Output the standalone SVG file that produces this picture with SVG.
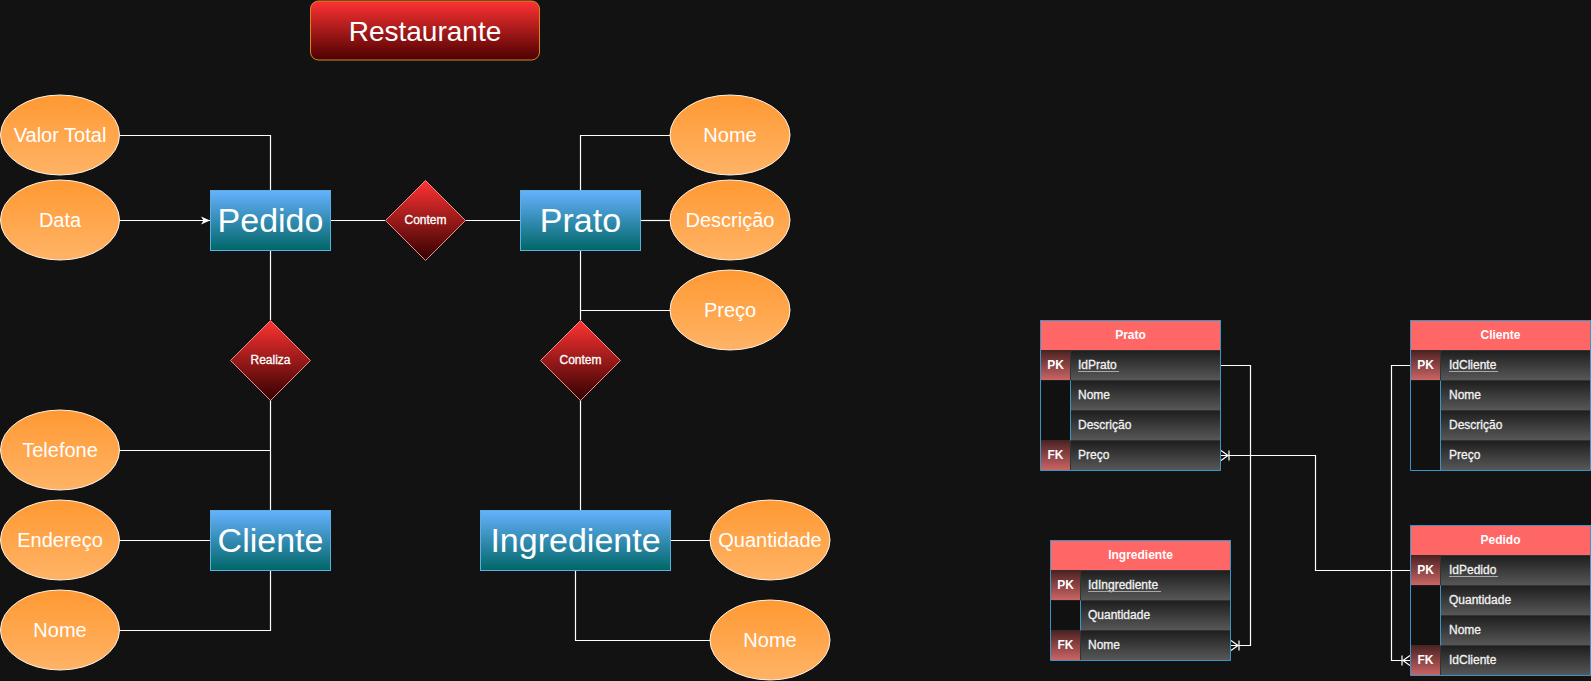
<svg xmlns="http://www.w3.org/2000/svg" width="1591" height="681" viewBox="0 0 1591 681">
<style>
text{font-family:"Liberation Sans",Arial,sans-serif;fill:#ffffff}
.ent{fill:url(#gEnt);stroke:#5aaee0;stroke-width:1}
.entT{font-size:34px;text-anchor:middle;dominant-baseline:central}
.rel{fill:url(#gRel);stroke:#e89088;stroke-width:1}
.relT{font-size:12px;text-anchor:middle;dominant-baseline:central;stroke:#ffffff;stroke-width:0.3}
.att{fill:url(#gAttr);stroke:#fff3e6;stroke-width:1}
.attT{font-size:20px;text-anchor:middle;dominant-baseline:central}
.ln{fill:none;stroke:#ffffff;stroke-width:1.2}
.hdr{fill:#ff6666;stroke:#3b94c6;stroke-width:1}
.hdrT{font-size:12px;font-weight:bold;text-anchor:middle;dominant-baseline:central}
.row{fill:url(#gRow);stroke:#333;stroke-width:1}
.key{fill:url(#gKey);stroke:#3a2a2a;stroke-width:1}
.nokey{fill:#111111}
.keyT{font-size:12px;font-weight:bold;text-anchor:middle;dominant-baseline:central}
.fT{font-size:12px;dominant-baseline:central;fill:#f2f2f2;stroke:#f2f2f2;stroke-width:0.3}
.ul{stroke:#a8a8a8;stroke-width:1.2}
.frame{fill:none;stroke:#3b94c6;stroke-width:1}
</style>
<defs>
<linearGradient id="gEnt" x1="0" y1="0" x2="0" y2="1"><stop offset="0" stop-color="#66b2ff"/><stop offset="1" stop-color="#006666"/></linearGradient>
<linearGradient id="gRel" x1="0" y1="0" x2="0" y2="1"><stop offset="0" stop-color="#ff3333"/><stop offset="1" stop-color="#330000"/></linearGradient>
<linearGradient id="gAttr" x1="0" y1="0" x2="0" y2="1"><stop offset="0" stop-color="#ff9933"/><stop offset="1" stop-color="#ffb366"/></linearGradient>
<linearGradient id="gTitle" x1="0" y1="0" x2="0" y2="1"><stop offset="0" stop-color="#ff3333"/><stop offset="1" stop-color="#4d0000"/></linearGradient>
<linearGradient id="gRow" x1="0" y1="0" x2="0" y2="1"><stop offset="0" stop-color="#1e1e1e"/><stop offset="1" stop-color="#585858"/></linearGradient>
<linearGradient id="gKey" x1="0" y1="0" x2="0" y2="1"><stop offset="0" stop-color="#4d2222"/><stop offset="1" stop-color="#cc6666"/></linearGradient>
<marker id="arrow" markerUnits="userSpaceOnUse" viewBox="-10 -5 11 10" refX="0" refY="0" markerWidth="11" markerHeight="10" orient="auto">
<path d="M0,0 L-9,-4 L-6.5,0 L-9,4 Z" fill="#ffffff"/>
</marker>
<marker id="oneMany" markerUnits="userSpaceOnUse" viewBox="-12 -7 13 14" refX="0" refY="0" markerWidth="13" markerHeight="14" orient="auto">
<path d="M0,-5 L-7,0 L0,5 M-8,-5 L-8,5" fill="none" stroke="#ffffff" stroke-width="1.2"/>
</marker>
</defs>
<rect x="0" y="0" width="1591" height="681" fill="#121212"/>

<g id="title">
<rect x="310.5" y="1" width="229" height="59" rx="8" fill="url(#gTitle)" stroke="#d28a1e" stroke-width="1"/>
<text x="425" y="31" font-size="28" text-anchor="middle" dominant-baseline="central">Restaurante</text>
</g>

<g id="connectors">
<path class="ln" d="M120,135.5 H270.5 V190"/>
<path class="ln" d="M120,220.5 H210" marker-end="url(#arrow)"/>
<path class="ln" d="M330,220.5 H385"/>
<path class="ln" d="M465,220.5 H520"/>
<path class="ln" d="M270.5,250 V320"/>
<path class="ln" d="M270.5,400 V510"/>
<path class="ln" d="M120,450.5 H270.5"/>
<path class="ln" d="M120,540.5 H210"/>
<path class="ln" d="M120,630.5 H270.5 V570"/>
<path class="ln" d="M580.5,190 V135.5 H670"/>
<path class="ln" d="M640,220.5 H670"/>
<path class="ln" d="M580.5,250 V320"/>
<path class="ln" d="M580.5,310.5 H670"/>
<path class="ln" d="M580.5,400 V520"/>
<path class="ln" d="M670,540.5 H710"/>
<path class="ln" d="M575.5,570 V640.5 H710"/>
<path class="ln" d="M1221,365.5 H1250.5 V645.5 H1231" marker-end="url(#oneMany)"/>
<path class="ln" d="M1410,570.5 H1315.5 V455.5 H1221" marker-end="url(#oneMany)"/>
<path class="ln" d="M1410,365.5 H1391.5 V660.5 H1410" marker-end="url(#oneMany)"/>
</g>

<g id="attr-valor-total"><ellipse class="att" cx="60" cy="135" rx="59.5" ry="40"/><text class="attT" x="60" y="135" font-size="19">Valor Total</text></g>
<g id="attr-data"><ellipse class="att" cx="60" cy="220" rx="59.5" ry="40"/><text class="attT" x="60" y="220">Data</text></g>
<g id="attr-telefone"><ellipse class="att" cx="60" cy="450" rx="59.5" ry="40"/><text class="attT" x="60" y="450">Telefone</text></g>
<g id="attr-endereco"><ellipse class="att" cx="60" cy="540" rx="59.5" ry="40"/><text class="attT" x="60" y="540">Endereço</text></g>
<g id="attr-cliente-nome"><ellipse class="att" cx="60" cy="630" rx="59.5" ry="40"/><text class="attT" x="60" y="630">Nome</text></g>
<g id="attr-prato-nome"><ellipse class="att" cx="730" cy="135" rx="60" ry="40"/><text class="attT" x="730" y="135">Nome</text></g>
<g id="attr-descricao"><ellipse class="att" cx="730" cy="220" rx="60" ry="40"/><text class="attT" x="730" y="220">Descrição</text></g>
<g id="attr-preco"><ellipse class="att" cx="730" cy="310" rx="60" ry="40"/><text class="attT" x="730" y="310">Preço</text></g>
<g id="attr-quantidade"><ellipse class="att" cx="770" cy="540" rx="60" ry="40"/><text class="attT" x="770" y="540">Quantidade</text></g>
<g id="attr-ingrediente-nome"><ellipse class="att" cx="770" cy="640" rx="60" ry="40"/><text class="attT" x="770" y="640">Nome</text></g>

<g id="ent-pedido"><rect class="ent" x="210.5" y="190.5" width="120" height="60"/><text class="entT" x="270.5" y="220">Pedido</text></g>
<g id="ent-prato"><rect class="ent" x="520.5" y="190.5" width="120" height="60"/><text class="entT" x="580.5" y="220">Prato</text></g>
<g id="ent-cliente"><rect class="ent" x="210.5" y="510.5" width="120" height="60"/><text class="entT" x="270.5" y="540">Cliente</text></g>
<g id="ent-ingrediente"><rect class="ent" x="480.5" y="510.5" width="190" height="60"/><text class="entT" x="575.5" y="540">Ingrediente</text></g>

<g id="rel-contem-1"><path class="rel" d="M425.5,180.5 L465.5,220.5 L425.5,260.5 L385.5,220.5 Z"/><text class="relT" x="425.5" y="220">Contem</text></g>
<g id="rel-realiza"><path class="rel" d="M270.5,320.5 L310.5,360.5 L270.5,400.5 L230.5,360.5 Z"/><text class="relT" x="270.5" y="360">Realiza</text></g>
<g id="rel-contem-2"><path class="rel" d="M580.5,320.5 L620.5,360.5 L580.5,400.5 L540.5,360.5 Z"/><text class="relT" x="580.5" y="360">Contem</text></g>

<g id="table-prato">
<rect class="hdr" x="1040.5" y="320.5" width="180" height="30"/><text class="hdrT" x="1130.5" y="335">Prato</text>
<rect class="key" x="1040.5" y="350.5" width="30" height="30"/><text class="keyT" x="1055.5" y="365">PK</text>
<rect class="row" x="1070.5" y="350.5" width="150" height="30"/><text class="fT" x="1078" y="365">IdPrato</text>
<line class="ul" x1="1078" y1="371.5" x2="1119" y2="371.5"/>
<rect class="nokey" x="1040.5" y="380.5" width="30" height="60"/>
<rect class="row" x="1070.5" y="380.5" width="150" height="30"/><text class="fT" x="1078" y="395">Nome</text>
<rect class="row" x="1070.5" y="410.5" width="150" height="30"/><text class="fT" x="1078" y="425">Descrição</text>
<rect class="key" x="1040.5" y="440.5" width="30" height="30"/><text class="keyT" x="1055.5" y="455">FK</text>
<rect class="row" x="1070.5" y="440.5" width="150" height="30"/><text class="fT" x="1078" y="455">Preço</text>
<path class="frame" d="M1040.5,320.5 V470.5 H1220.5 V320.5 M1070.5,380.5 V440.5"/>
</g>

<g id="table-cliente">
<rect class="hdr" x="1410.5" y="320.5" width="180" height="30"/><text class="hdrT" x="1500.5" y="335">Cliente</text>
<rect class="key" x="1410.5" y="350.5" width="30" height="30"/><text class="keyT" x="1425.5" y="365">PK</text>
<rect class="row" x="1440.5" y="350.5" width="150" height="30"/><text class="fT" x="1449" y="365">IdCliente</text>
<line class="ul" x1="1449" y1="371.5" x2="1498" y2="371.5"/>
<rect class="nokey" x="1410.5" y="380.5" width="30" height="90"/>
<rect class="row" x="1440.5" y="380.5" width="150" height="30"/><text class="fT" x="1449" y="395">Nome</text>
<rect class="row" x="1440.5" y="410.5" width="150" height="30"/><text class="fT" x="1449" y="425">Descrição</text>
<rect class="row" x="1440.5" y="440.5" width="150" height="30"/><text class="fT" x="1449" y="455">Preço</text>
<path class="frame" d="M1410.5,320.5 V470.5 H1590.5 V320.5 M1440.5,380.5 V470.5"/>
</g>

<g id="table-ingrediente">
<rect class="hdr" x="1050.5" y="540.5" width="180" height="30"/><text class="hdrT" x="1140.5" y="555">Ingrediente</text>
<rect class="key" x="1050.5" y="570.5" width="30" height="30"/><text class="keyT" x="1065.5" y="585">PK</text>
<rect class="row" x="1080.5" y="570.5" width="150" height="30"/><text class="fT" x="1088" y="585">IdIngrediente</text>
<line class="ul" x1="1088" y1="591.5" x2="1161" y2="591.5"/>
<rect class="nokey" x="1050.5" y="600.5" width="30" height="30"/>
<rect class="row" x="1080.5" y="600.5" width="150" height="30"/><text class="fT" x="1088" y="615">Quantidade</text>
<rect class="key" x="1050.5" y="630.5" width="30" height="30"/><text class="keyT" x="1065.5" y="645">FK</text>
<rect class="row" x="1080.5" y="630.5" width="150" height="30"/><text class="fT" x="1088" y="645">Nome</text>
<path class="frame" d="M1050.5,540.5 V660.5 H1230.5 V540.5 M1080.5,600.5 V630.5"/>
</g>

<g id="table-pedido">
<rect class="hdr" x="1410.5" y="525.5" width="180" height="30"/><text class="hdrT" x="1500.5" y="540">Pedido</text>
<rect class="key" x="1410.5" y="555.5" width="30" height="30"/><text class="keyT" x="1425.5" y="570">PK</text>
<rect class="row" x="1440.5" y="555.5" width="150" height="30"/><text class="fT" x="1449" y="570">IdPedido</text>
<line class="ul" x1="1449" y1="576.5" x2="1498" y2="576.5"/>
<rect class="nokey" x="1410.5" y="585.5" width="30" height="60"/>
<rect class="row" x="1440.5" y="585.5" width="150" height="30"/><text class="fT" x="1449" y="600">Quantidade</text>
<rect class="row" x="1440.5" y="615.5" width="150" height="30"/><text class="fT" x="1449" y="630">Nome</text>
<rect class="key" x="1410.5" y="645.5" width="30" height="30"/><text class="keyT" x="1425.5" y="660">FK</text>
<rect class="row" x="1440.5" y="645.5" width="150" height="30"/><text class="fT" x="1449" y="660">IdCliente</text>
<path class="frame" d="M1410.5,525.5 V675.5 H1590.5 V525.5 M1440.5,585.5 V645.5"/>
</g>
</svg>
